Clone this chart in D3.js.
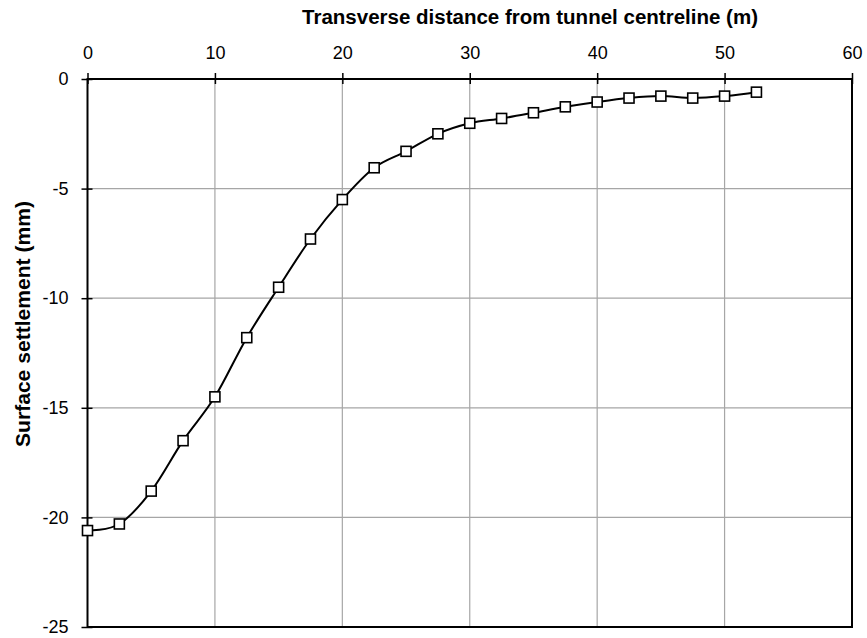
<!DOCTYPE html>
<html>
<head>
<meta charset="utf-8">
<script src="https://cdn.jsdelivr.net/npm/d3@7"></script>
<style>
  html, body { margin: 0; padding: 0; background: #fff; }
  svg { display: block; }
</style>
</head>
<body>
<svg id="chart" width="867" height="638"></svg>
<script>
// Transverse surface settlement trough above the tunnel
const distances = [0, 2.5, 5, 7.5, 10, 12.5, 15, 17.5, 20, 22.5, 25, 27.5, 30,
                   32.5, 35, 37.5, 40, 42.5, 45, 47.5, 50, 52.5];
const settlements = [-20.6, -20.3, -18.8, -16.5, -14.5, -11.8, -9.5, -7.3, -5.5, -4.05, -3.3, -2.5, -2.02,
                     -1.8, -1.54, -1.27, -1.05, -0.87, -0.78, -0.87, -0.78, -0.6];
const xTicks = [0, 10, 20, 30, 40, 50, 60];
const yTicks = [0, -5, -10, -15, -20, -25];
const xTitle = "Transverse distance from tunnel centreline (m)";
const yTitle = "Surface settlement (mm)";

const svg = d3.select("#chart");
const plotLeft = 87.5, plotRight = 852, plotTop = 79, plotBottom = 627;

const x = d3.scaleLinear().domain([0, 60]).range([plotLeft, plotRight]);
const y = d3.scaleLinear().domain([0, -25]).range([plotTop, plotBottom]);

const font = "'Liberation Sans', Arial, sans-serif";
const plain = d => String(d);   // hyphen-minus labels

// gridlines
svg.append("g").selectAll("line")
  .data(xTicks.filter(d => d > 0 && d < 60))
  .join("line")
  .attr("x1", d => x(d)).attr("x2", d => x(d))
  .attr("y1", plotTop).attr("y2", plotBottom)
  .attr("stroke", "#a6a6a6").attr("stroke-width", 1.2);
svg.append("g").selectAll("line")
  .data(yTicks.filter(d => d < 0 && d > -25))
  .join("line")
  .attr("x1", plotLeft).attr("x2", plotRight)
  .attr("y1", d => y(d)).attr("y2", d => y(d))
  .attr("stroke", "#a6a6a6").attr("stroke-width", 1.2);

// plot border
svg.append("rect")
  .attr("x", plotLeft).attr("y", plotTop)
  .attr("width", plotRight - plotLeft).attr("height", plotBottom - plotTop)
  .attr("fill", "none").attr("stroke", "#000").attr("stroke-width", 2);

// top axis (crossing ticks)
const xAxis = d3.axisTop(x).tickValues(xTicks).tickFormat(plain).tickSize(0).tickPadding(20);
const gx = svg.append("g").attr("transform", `translate(0,${plotTop})`).call(xAxis);
gx.select(".domain").remove();
gx.selectAll(".tick line").remove();
gx.selectAll(".tick").append("line")
  .attr("y1", -6).attr("y2", 5).attr("stroke", "#000").attr("stroke-width", 1.5);
gx.selectAll(".tick text")
  .attr("font-family", font).attr("font-size", 18).attr("fill", "#000");

// left axis (crossing ticks)
const yAxis = d3.axisLeft(y).tickValues(yTicks).tickFormat(plain).tickSize(0).tickPadding(19);
const gy = svg.append("g").attr("transform", `translate(${plotLeft},0)`).call(yAxis);
gy.select(".domain").remove();
gy.selectAll(".tick line").remove();
gy.selectAll(".tick").append("line")
  .attr("x1", -6).attr("x2", 5).attr("stroke", "#000").attr("stroke-width", 1.5);
gy.selectAll(".tick text")
  .attr("font-family", font).attr("font-size", 18).attr("fill", "#000");

// axis titles
svg.append("text")
  .attr("x", 302).attr("y", 24)
  .attr("font-family", font).attr("font-weight", "bold").attr("font-size", 20)
  .attr("textLength", 456).attr("lengthAdjust", "spacingAndGlyphs")
  .text(xTitle);
svg.append("text")
  .attr("transform", "translate(30,447) rotate(-90)")
  .attr("font-family", font).attr("font-weight", "bold").attr("font-size", 20)
  .attr("textLength", 246).attr("lengthAdjust", "spacingAndGlyphs")
  .text(yTitle);

// smoothed settlement curve
const pts = distances.map((d, i) => [d, settlements[i]]);
const line = d3.line()
  .x(d => x(d[0])).y(d => y(d[1]))
  .curve(d3.curveCardinal.tension(0));
svg.append("path")
  .datum(pts)
  .attr("d", line)
  .attr("fill", "none").attr("stroke", "#000").attr("stroke-width", 2);

// square markers
const ms = 10;
svg.append("g").selectAll("rect")
  .data(pts)
  .join("rect")
  .attr("x", d => x(d[0]) - ms / 2).attr("y", d => y(d[1]) - ms / 2)
  .attr("width", ms).attr("height", ms)
  .attr("fill", "#fff").attr("stroke", "#000").attr("stroke-width", 1.6);
</script>
</body>
</html>
